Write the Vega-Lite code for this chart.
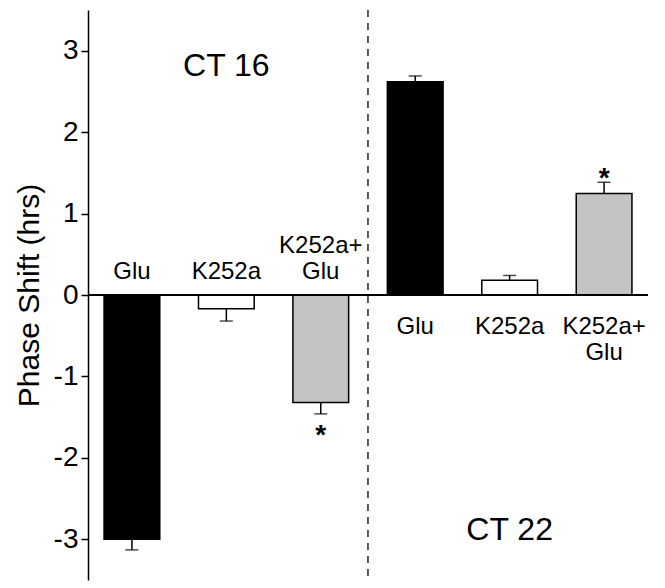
{
  "$schema": "https://vega.github.io/schema/vega-lite/v6.json",
  "width": 560,
  "height": 570,
  "autosize": {"type": "none"},
  "padding": {"left": 88, "top": 10, "right": 17, "bottom": 8},
  "config": {
    "view": {"stroke": null},
    "font": "Liberation Sans"
  },
  "data": {
    "values": [
      {"id": "CT16 Glu", "ct": "CT 16", "treatment": "Glu", "upper": "", "lower": "Glu", "value": -3.0, "err": -3.13, "sig": ""},
      {"id": "CT16 K252a", "ct": "CT 16", "treatment": "K252a", "upper": "", "lower": "K252a", "value": -0.17, "err": -0.32, "sig": ""},
      {"id": "CT16 K252a+Glu", "ct": "CT 16", "treatment": "K252a+Glu", "upper": "K252a+", "lower": "Glu", "value": -1.32, "err": -1.46, "sig": "*"},
      {"id": "CT22 Glu", "ct": "CT 22", "treatment": "Glu", "upper": "Glu", "lower": "", "value": 2.62, "err": 2.69, "sig": ""},
      {"id": "CT22 K252a", "ct": "CT 22", "treatment": "K252a", "upper": "K252a", "lower": "", "value": 0.18, "err": 0.24, "sig": ""},
      {"id": "CT22 K252a+Glu", "ct": "CT 22", "treatment": "K252a+Glu", "upper": "K252a+", "lower": "Glu", "value": 1.245, "err": 1.385, "sig": "*"}
    ]
  },
  "encoding": {
    "x": {
      "field": "id", "type": "nominal", "sort": null,
      "scale": {"paddingInner": 0.41, "paddingOuter": 0.17},
      "axis": null
    }
  },
  "layer": [
    {
      "mark": {"type": "rule", "color": "black", "strokeWidth": 1.5},
      "encoding": {
        "y": {"field": "value", "type": "quantitative"},
        "y2": {"field": "err"}
      }
    },
    {
      "mark": {"type": "tick", "color": "black", "thickness": 1.5, "size": 13, "orient": "horizontal"},
      "encoding": {
        "y": {"field": "err", "type": "quantitative"}
      }
    },
    {
      "mark": {"type": "bar", "stroke": "black", "strokeWidth": 1.5},
      "encoding": {
        "y": {
          "field": "value", "type": "quantitative",
          "scale": {"domain": [-3.5, 3.5], "nice": false, "zero": false},
          "axis": {
            "title": "Phase Shift (hrs)",
            "titleFontSize": 30,
            "titleFontWeight": "normal",
            "titleColor": "black",
            "titlePadding": 9,
            "values": [-3, -2, -1, 0, 1, 2, 3],
            "labelExpr": "'' + datum.value",
            "labelFontSize": 28,
            "labelColor": "black",
            "labelPadding": 3,
            "tickColor": "black",
            "tickSize": 7,
            "tickWidth": 1.5,
            "domainColor": "black",
            "domainWidth": 1.5,
            "grid": false
          }
        },
        "y2": {"datum": 0},
        "color": {
          "field": "treatment", "type": "nominal",
          "scale": {"domain": ["Glu", "K252a", "K252a+Glu"], "range": ["#000000", "#ffffff", "#c4c4c4"]},
          "legend": null
        }
      }
    },
    {
      "mark": {"type": "rule", "color": "black", "strokeWidth": 1.5},
      "encoding": {"y": {"datum": 0}, "x": null}
    },
    {
      "transform": [{"filter": "datum.id === 'CT16 K252a+Glu'"}],
      "mark": {"type": "rule", "color": "black", "strokeWidth": 1.3, "strokeDash": [7, 6]},
      "encoding": {
        "x": {"field": "id", "type": "nominal", "bandPosition": 1.347}
      }
    },
    {
      "transform": [{"filter": "datum.ct === 'CT 16'"}],
      "mark": {"type": "text", "baseline": "bottom", "fontSize": 24, "dy": -11, "color": "black"},
      "encoding": {"y": {"datum": 0}, "text": {"field": "lower"}}
    },
    {
      "transform": [{"filter": "datum.ct === 'CT 16'"}],
      "mark": {"type": "text", "baseline": "bottom", "fontSize": 24, "dy": -37, "color": "black"},
      "encoding": {"y": {"datum": 0}, "text": {"field": "upper"}}
    },
    {
      "transform": [{"filter": "datum.ct === 'CT 22'"}],
      "mark": {"type": "text", "baseline": "top", "fontSize": 24, "dy": 20, "color": "black"},
      "encoding": {"y": {"datum": 0}, "text": {"field": "upper"}}
    },
    {
      "transform": [{"filter": "datum.ct === 'CT 22'"}],
      "mark": {"type": "text", "baseline": "top", "fontSize": 24, "dy": 46, "color": "black"},
      "encoding": {"y": {"datum": 0}, "text": {"field": "lower"}}
    },
    {
      "transform": [{"filter": "datum.sig !== '' && datum.value < 0"}],
      "mark": {"type": "text", "baseline": "top", "fontSize": 28, "fontWeight": "bold", "dy": 8, "color": "black"},
      "encoding": {"y": {"field": "err", "type": "quantitative"}, "text": {"field": "sig"}}
    },
    {
      "transform": [{"filter": "datum.sig !== '' && datum.value > 0"}],
      "mark": {"type": "text", "baseline": "alphabetic", "fontSize": 28, "fontWeight": "bold", "dy": 5, "color": "black"},
      "encoding": {"y": {"field": "err", "type": "quantitative"}, "text": {"field": "sig"}}
    },
    {
      "transform": [{"filter": "datum.id === 'CT16 K252a'"}],
      "mark": {"type": "text", "baseline": "alphabetic", "fontSize": 32, "color": "black"},
      "encoding": {"y": {"datum": 2.69}, "text": {"field": "ct"}}
    },
    {
      "transform": [{"filter": "datum.id === 'CT22 K252a'"}],
      "mark": {"type": "text", "baseline": "alphabetic", "fontSize": 32, "color": "black"},
      "encoding": {"y": {"datum": -3.01}, "text": {"field": "ct"}}
    }
  ]
}
